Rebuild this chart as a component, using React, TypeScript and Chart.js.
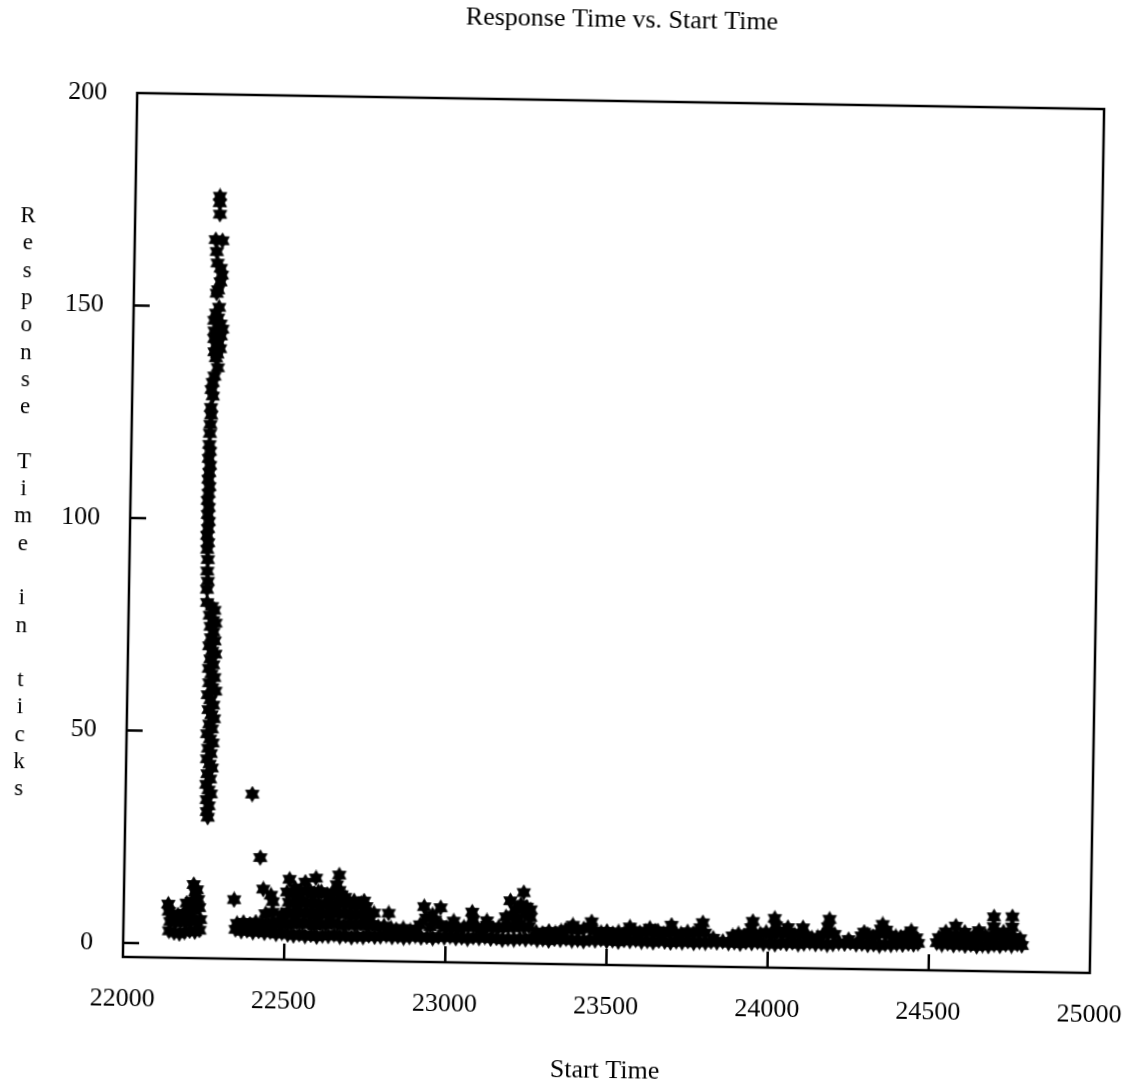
import React, { useEffect, useRef } from "react";
import { Chart, registerables } from "chart.js";

Chart.register(...registerables);

// ---- text ----
const chartTitle = "Response Time vs. Start Time";
const xAxisTitle = "Start Time";
const yAxisTitle = "Response Time in ticks";

// ---- axes ----
const xMin = 22000;
const xMax = 25000;
const yMin = -3.3;
const yMax = 200;
const xTickValues = [22000, 22500, 23000, 23500, 24000, 24500, 25000];
const yTickValues = [0, 50, 100, 150, 200];

// ---- data: [start time, response time] ----
const spikePoints: [number, number][] = [
  [22262, 176.0], [22262, 174.5], [22263, 171.8], [22251, 165.8], [22272, 165.6], [22255, 163.0],
  [22258, 160.3], [22268, 159.1], [22272, 157.5], [22268, 155.9], [22261, 154.0], [22257, 153.2],
  [22265, 149.9], [22256, 148.5], [22262, 147.4], [22251, 146.8], [22270, 146.0], [22276, 144.8],
  [22252, 144.3], [22262, 143.9], [22272, 143.2], [22252, 142.5], [22265, 141.6], [22258, 140.9],
  [22270, 140.2], [22253, 139.4], [22262, 138.9], [22258, 138.0],
  [22264, 135.7], [22254, 133.7], [22249, 132.2], [22246, 130.5], [22250, 129.0], [22245, 126.3],
  [22246, 124.5], [22244, 122.3], [22243, 120.2],
  [22242, 117.6], [22244, 116.0], [22241, 114.3], [22245, 112.7], [22243, 111.0], [22241, 109.4],
  [22244, 107.7], [22242, 106.1], [22240, 104.4], [22243, 102.8], [22241, 101.1], [22244, 99.5],
  [22242, 97.8], [22240, 96.2], [22243, 94.5], [22241, 92.9], [22243, 90.5], [22242, 87.8],
  [22244, 85.4], [22242, 83.5], [22243, 80.4],
  [22258, 79.5], [22266, 78.6], [22252, 77.4], [22262, 76.2], [22270, 75.6], [22255, 74.8],
  [22264, 73.5], [22257, 72.1], [22268, 71.4], [22252, 70.2], [22261, 69.0], [22271, 68.3],
  [22256, 67.1], [22265, 65.8], [22252, 64.9], [22260, 63.6], [22269, 62.8], [22254, 61.5],
  [22263, 60.4], [22273, 59.6], [22250, 58.7], [22258, 57.5], [22267, 56.3], [22253, 55.2],
  [22262, 54.0], [22270, 53.1], [22256, 51.8], [22264, 50.7], [22250, 49.5], [22259, 48.3],
  [22267, 47.4], [22254, 46.1], [22262, 44.9], [22251, 43.6], [22259, 42.4], [22266, 41.5],
  [22253, 40.1], [22261, 38.9], [22250, 37.6], [22257, 36.3], [22264, 35.4], [22252, 34.0],
  [22258, 32.6], [22253, 31.2], [22256, 29.9],
];

const earlyClusterPoints: [number, number][] = [
  [22142, 3.0], [22158, 2.6], [22174, 2.4], [22190, 2.8], [22206, 3.1], [22222, 2.9], [22236, 3.3],
  [22145, 5.2], [22162, 5.0], [22178, 5.4], [22194, 5.1], [22210, 5.6], [22226, 5.3], [22238, 5.8],
  [22150, 7.0], [22168, 6.8], [22186, 7.2], [22202, 7.4], [22218, 7.9], [22234, 8.6],
  [22138, 9.3], [22140, 7.6], [22195, 9.6], [22211, 10.0], [22216, 14.0], [22221, 12.2],
  [22226, 12.8], [22230, 10.5], [22205, 8.4],
];

const outlierPoints: [number, number][] = [
  [22342, 10.6], [22393, 35.5], [22421, 20.6],
];

const bandBasePoints: [number, number][] = [
  [22348, 3.6], [22366, 3.2], [22384, 3.4], [22402, 3.0], [22420, 3.3], [22438, 2.9], [22456, 3.2],
  [22474, 2.7], [22492, 3.0], [22510, 2.6], [22528, 2.4], [22546, 2.7], [22564, 2.3], [22582, 2.6],
  [22600, 2.2], [22618, 2.5], [22636, 2.4], [22654, 2.8], [22672, 2.3], [22690, 2.6], [22708, 2.2],
  [22726, 2.5], [22744, 2.3], [22762, 2.7], [22780, 2.4], [22798, 2.5], [22816, 2.8], [22834, 2.4],
  [22852, 2.6], [22870, 2.3], [22888, 2.5], [22906, 2.8], [22924, 2.4], [22942, 2.6], [22960, 2.3],
  [22978, 2.7], [22996, 2.5], [23014, 2.8], [23032, 2.4], [23050, 2.6], [23068, 2.3], [23086, 2.7],
  [23104, 2.5], [23122, 2.8], [23140, 2.4], [23158, 2.6], [23176, 2.2], [23194, 2.5], [23212, 2.3],
  [23230, 2.6], [23248, 2.4], [23266, 2.7], [23284, 2.3], [23302, 2.5], [23320, 2.2], [23338, 2.6],
  [23356, 2.4], [23374, 2.7], [23392, 2.3], [23410, 2.5], [23428, 2.2], [23446, 2.6], [23464, 2.4],
  [23482, 2.7], [23500, 2.3], [23518, 2.5], [23536, 2.2], [23554, 2.6], [23572, 2.4], [23590, 2.7],
  [23608, 2.3], [23626, 2.5], [23644, 2.2], [23662, 2.6], [23680, 2.4], [23698, 2.2], [23716, 2.5],
  [23734, 2.3], [23752, 2.6], [23770, 2.2], [23788, 2.5], [23806, 2.3], [23824, 2.6], [23842, 2.4],
  [23860, 2.7], [23878, 2.3], [23896, 2.5], [23914, 2.2], [23932, 2.6], [23950, 2.4], [23968, 2.7],
  [23986, 2.3], [24004, 2.5], [24022, 2.2], [24040, 2.6], [24058, 2.4], [24076, 2.7], [24094, 2.3],
  [24112, 2.5], [24130, 2.8], [24148, 2.4], [24166, 2.6], [24184, 2.3], [24202, 2.5], [24220, 2.8],
  [24238, 2.6], [24256, 2.9], [24274, 2.5], [24292, 2.7], [24310, 2.4], [24328, 2.6], [24346, 2.3],
  [24364, 2.7], [24382, 2.5], [24400, 2.8], [24418, 2.6], [24436, 2.9], [24452, 2.7], [24466, 3.0],
  [24524, 3.2], [24540, 2.8], [24558, 3.1], [24576, 2.7], [24594, 3.0], [24612, 2.6], [24630, 2.9],
  [24648, 2.5], [24666, 2.8], [24684, 2.6], [24702, 3.0], [24720, 2.7], [24738, 3.1], [24756, 2.8],
  [24774, 3.2], [24788, 2.9],
];

const bandUpperPoints: [number, number][] = [
  // 22350 - 22420
  [22352, 5.0], [22372, 5.3], [22392, 4.9], [22410, 5.4],
  // thick region 22420 - 22800
  [22430, 5.2], [22448, 4.8], [22466, 5.5], [22484, 5.0], [22502, 5.4], [22520, 4.9], [22538, 5.6],
  [22556, 5.1], [22574, 5.5], [22592, 4.8], [22610, 5.3], [22628, 5.0], [22646, 5.6], [22664, 5.2],
  [22682, 4.9], [22700, 5.4], [22718, 5.0], [22736, 5.5], [22754, 4.9], [22772, 5.3], [22790, 4.8],
  [22440, 7.4], [22462, 7.8], [22490, 7.2], [22508, 7.9], [22526, 7.3], [22544, 8.0], [22562, 7.5],
  [22580, 7.9], [22598, 7.2], [22616, 7.8], [22634, 7.4], [22652, 8.1], [22670, 7.6], [22688, 7.9],
  [22706, 7.3], [22724, 7.8], [22742, 7.5], [22760, 7.1],
  [22512, 10.2], [22532, 9.8], [22550, 10.6], [22568, 9.9], [22588, 10.4], [22606, 9.7], [22626, 10.1],
  [22646, 9.6], [22664, 10.5], [22682, 9.9], [22700, 10.3], [22718, 9.7], [22736, 10.2], [22752, 9.5],
  [22506, 12.6], [22524, 12.2], [22548, 12.8], [22572, 13.0], [22590, 12.4], [22612, 12.8],
  [22630, 12.2], [22650, 12.6], [22668, 13.2], [22686, 11.6],
  // 22800 - 23000
  [22808, 5.0], [22830, 4.5], [22846, 4.2], [22868, 4.5], [22890, 4.0], [22908, 4.4],
  [22920, 5.4], [22938, 7.0], [22952, 5.0], [22966, 6.6], [22984, 5.5],
  // 23000 - 23270
  [23002, 4.8], [23020, 5.3], [23038, 4.6], [23056, 5.0], [23070, 5.2], [23084, 6.8], [23096, 5.0],
  [23112, 4.7], [23128, 5.5], [23146, 4.9], [23164, 5.2],
  [23178, 5.0], [23194, 5.6], [23210, 5.1], [23226, 5.8], [23242, 5.2], [23258, 5.5],
  [23186, 7.6], [23206, 8.0], [23224, 7.3], [23244, 8.4], [23262, 7.6],
  // 23270 - 23560
  [23280, 4.2], [23300, 3.9], [23320, 4.4], [23340, 4.0], [23358, 4.5],
  [23372, 4.8], [23390, 5.3], [23410, 4.7], [23428, 5.1], [23448, 5.5], [23464, 4.6],
  [23482, 4.3], [23500, 4.6], [23518, 4.1], [23536, 4.5], [23554, 4.2],
  // 23560 - 23810
  [23566, 4.6], [23584, 4.9], [23602, 4.4], [23620, 4.8], [23640, 4.5], [23658, 4.9], [23676, 4.3],
  [23694, 4.8], [23712, 4.4], [23730, 4.3], [23750, 4.8], [23768, 4.4], [23786, 5.0], [23804, 4.6],
  // 23810 - 24120
  [23830, 3.4], [23890, 4.0], [23908, 4.5], [23926, 4.1], [23944, 4.8], [23960, 4.4],
  [23976, 4.6], [23994, 5.0], [24012, 4.5], [24028, 5.3], [24046, 4.7], [24064, 5.0], [24082, 4.5],
  [24100, 4.9], [24116, 4.4],
  // 24120 - 24470
  [24136, 3.8], [24154, 4.0], [24170, 4.6], [24188, 5.2], [24206, 4.8], [24250, 3.6],
  [24290, 4.5], [24308, 4.9], [24326, 4.4], [24344, 5.0], [24362, 5.4], [24380, 4.8], [24396, 4.5],
  [24412, 4.4], [24428, 4.9], [24446, 4.6], [24460, 4.3],
  // 24520 - 24790
  [24530, 4.4], [24548, 4.9], [24566, 4.6], [24584, 5.2], [24602, 4.8], [24620, 4.5], [24638, 5.0],
  [24656, 4.7], [24674, 5.1], [24692, 4.6], [24710, 5.3], [24728, 4.9], [24746, 5.2], [24764, 4.8],
  [24782, 4.5],
];

const bandPeakPoints: [number, number][] = [
  [22432, 13.2], [22456, 11.8], [22462, 10.3], [22513, 15.6], [22530, 13.6], [22562, 15.0],
  [22595, 16.0], [22603, 12.8], [22667, 16.8], [22660, 14.5], [22675, 12.2], [22640, 11.8],
  [22580, 12.4], [22545, 12.0], [22714, 10.8], [22745, 10.8], [22776, 8.0], [22822, 8.0],
  [22932, 9.7], [22983, 9.5], [22958, 7.8], [23024, 6.4], [23081, 8.6], [23127, 6.6],
  [23199, 11.4], [23240, 13.4], [23232, 10.6], [23250, 10.0], [23214, 9.4], [23262, 9.4],
  [23394, 5.9], [23452, 6.8], [23571, 5.7], [23633, 5.5], [23700, 6.3], [23650, 4.9],
  [23797, 7.0], [23790, 5.8], [23952, 7.5], [23948, 6.0], [24020, 8.3], [24024, 6.6],
  [24061, 6.2], [24108, 6.2], [24190, 8.3], [24186, 6.5], [24298, 5.4], [24355, 7.3],
  [24350, 6.2], [24366, 6.0], [24444, 5.9], [24551, 5.8], [24582, 7.2], [24654, 6.2],
  [24700, 9.5], [24700, 7.2], [24757, 9.6], [24757, 7.2], [24730, 6.0], [24610, 5.8],
];

function makeStarMarker(): HTMLCanvasElement {
  const size = 17;
  const c = document.createElement("canvas");
  c.width = size;
  c.height = size;
  const g = c.getContext("2d")!;
  const cx = size / 2;
  const cy = size / 2;
  const r = 7.8;
  g.fillStyle = "#000";
  g.strokeStyle = "#000";
  g.lineWidth = 0.8;
  for (const start of [-90, 90]) {
    g.beginPath();
    for (let k = 0; k < 3; k++) {
      const a = ((start + k * 120) * Math.PI) / 180;
      const px = cx + r * Math.cos(a);
      const py = cy + r * Math.sin(a);
      if (k === 0) g.moveTo(px, py);
      else g.lineTo(px, py);
    }
    g.closePath();
    g.fill();
    g.stroke();
  }
  return c;
}

const FONT = '"Liberation Serif", "Times New Roman", serif';
const CANVAS_W = 1170;
const CANVAS_H = 1081;

const decorPlugin = {
  id: "decor",
  afterDatasetsDraw(chart: any) {
    const { ctx, chartArea: a, scales } = chart;
    ctx.save();
    ctx.strokeStyle = "#000";
    ctx.lineWidth = 2.5;
    ctx.strokeRect(a.left, a.top, a.right - a.left, a.bottom - a.top);
    for (const v of xTickValues) {
      if (v === xMin || v === xMax) continue;
      const px = scales.x.getPixelForValue(v);
      ctx.beginPath();
      ctx.moveTo(px, a.bottom);
      ctx.lineTo(px, a.bottom - 16);
      ctx.stroke();
    }
    for (const v of yTickValues) {
      if (v === yMax) continue;
      const py = scales.y.getPixelForValue(v);
      ctx.beginPath();
      ctx.moveTo(a.left, py);
      ctx.lineTo(a.left + 16, py);
      ctx.stroke();
    }
    ctx.fillStyle = "#000";
    ctx.textAlign = "center";
    ctx.textBaseline = "alphabetic";
    ctx.font = `26px ${FONT}`;
    const midX = (a.left + a.right) / 2;
    ctx.fillText(chartTitle, midX, 27);
    ctx.fillText(xAxisTitle, midX, 1078);
    ctx.font = `23px ${FONT}`;
    ctx.textBaseline = "middle";
    let y = 226;
    for (const ch of yAxisTitle) {
      if (ch !== " ") ctx.fillText(ch, 23, y);
      y += 27.3;
    }
    ctx.restore();
  },
};

export default function App() {
  const canvasRef = useRef<HTMLCanvasElement | null>(null);

  useEffect(() => {
    const canvas = canvasRef.current;
    if (!canvas) return;
    const marker = makeStarMarker();
    const all = [
      ...earlyClusterPoints,
      ...spikePoints,
      ...outlierPoints,
      ...bandBasePoints,
      ...bandUpperPoints,
      ...bandPeakPoints,
    ].map(([x, y]) => ({ x, y }));

    const tickFont = { family: FONT, size: 26 };
    const chart = new Chart(canvas, {
      type: "scatter",
      data: {
        datasets: [
          {
            data: all,
            pointStyle: marker as any,
            pointRadius: 7,
            backgroundColor: "#000",
            borderColor: "#000",
          },
        ],
      },
      options: {
        animation: false,
        responsive: false,
        devicePixelRatio: 1,
        layout: { padding: { top: 101, right: CANVAS_W - 1097, left: 0, bottom: 0 } },
        plugins: {
          legend: { display: false },
          title: { display: false },
          tooltip: { enabled: false },
        },
        scales: {
          x: {
            type: "linear",
            min: xMin,
            max: xMax,
            grid: { display: false, drawTicks: false },
            border: { display: false },
            afterBuildTicks: (s: any) => {
              s.ticks = xTickValues.map((v) => ({ value: v }));
            },
            afterFit: (s: any) => {
              s.height = 116;
              s.paddingLeft = 0;
              s.paddingRight = 0;
            },
            ticks: {
              autoSkip: false,
              maxRotation: 0,
              padding: 27,
              color: "#000",
              font: tickFont,
              callback: (v: any) => String(v),
            },
          },
          y: {
            type: "linear",
            min: yMin,
            max: yMax,
            grid: { display: false, drawTicks: false },
            border: { display: false },
            afterBuildTicks: (s: any) => {
              s.ticks = yTickValues.map((v) => ({ value: v }));
            },
            afterFit: (s: any) => {
              s.width = 130;
              s.paddingTop = 0;
              s.paddingBottom = 0;
            },
            ticks: {
              padding: 30,
              color: "#000",
              font: tickFont,
              callback: (v: any) => String(v),
            },
          },
        },
      },
      plugins: [decorPlugin],
    });
    return () => chart.destroy();
  }, []);

  return (
    <div
      style={{
        position: "fixed",
        left: 0,
        top: 0,
        width: CANVAS_W,
        height: CANVAS_H,
        transform: "rotate(0.95deg)",
        transformOrigin: "614px 533px",
      }}
    >
      <canvas
        ref={canvasRef}
        width={CANVAS_W}
        height={CANVAS_H}
        style={{ display: "block", width: CANVAS_W, height: CANVAS_H }}
      />
    </div>
  );
}
